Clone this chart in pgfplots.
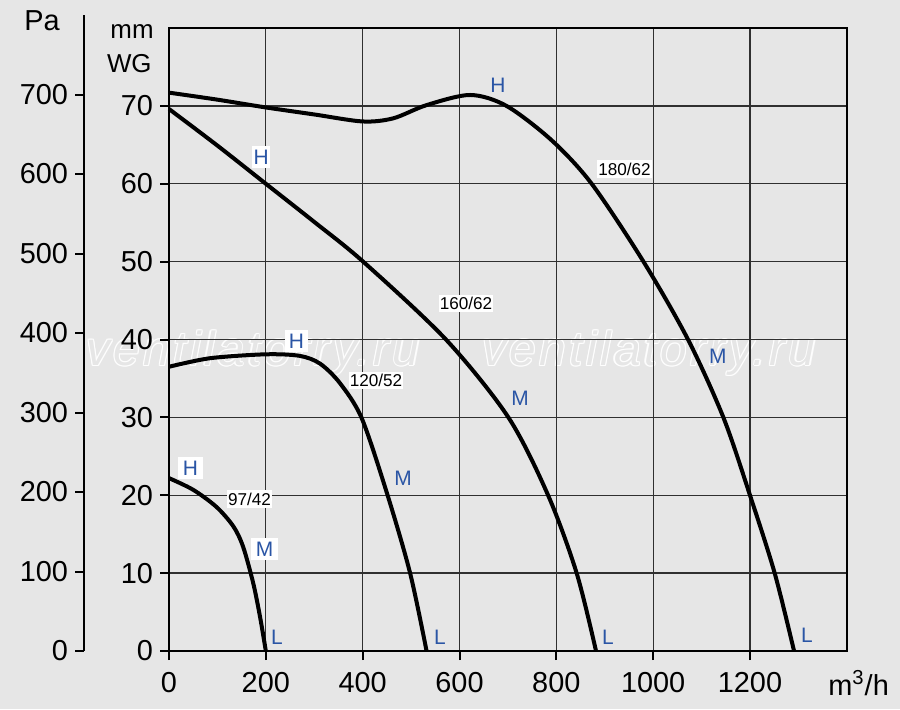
\documentclass[border=0pt]{standalone}
\usepackage{fontspec}
\setmainfont{Liberation Sans}
\newfontfamily\wmfont[LetterSpace=7]{Liberation Sans Italic}
\usepackage{pgfplots}
\pgfplotsset{compat=1.18}
\definecolor{bg}{HTML}{E6E6E6}
\definecolor{gridc}{HTML}{303030}
\definecolor{lblue}{HTML}{2A55A5}
\newcommand{\wm}[2]{%
  \foreach \dx/\dy in {-0.6/0,0.6/0,0/-0.6,0/0.6,-0.42/-0.42,0.42/0.42,-0.42/0.42,0.42/-0.42}{%
    \node[text=white, opacity=0.85, font=\wmfont\fontsize{24}{26}\selectfont] at (#1+\dx,#2+\dy) {ventilatorry.ru};}
  \node[text=bg, font=\wmfont\fontsize{24}{26}\selectfont] at (#1,#2) {ventilatorry.ru};}
\begin{document}
\begin{tikzpicture}[x=1bp,y=1bp,
  cl/.style={fill=white, inner xsep=0.6bp, inner ysep=1.2bp, font=\fontsize{8.6}{9}\selectfont},
  bl/.style={text=lblue, font=\fontsize{10.5}{11}\selectfont, inner sep=0.6bp},
  bw/.style={bl, fill=white, minimum height=11bp}]
\fill[bg] (0,0) rectangle (450,354.5);
\wm{126.5}{178}
\wm{324.5}{178}
% Pa axis
\begin{axis}[at={(42bp,29bp)}, anchor=south west, scale only axis,
  width=10bp, height=318bp, xmin=0, xmax=1, ymin=0, ymax=800,
  axis x line=none, axis y line=left, xtick=\empty,
  y axis line style={-, line width=1bp, black},
  ytick={0,100,...,700}, tick align=outside, major tick length=4.5bp,
  tick style={line width=1bp, black},
  /pgf/number format/assume math mode=true,
  ticklabel style={font=\fontsize{14.5}{17}\selectfont}]
\end{axis}
% main axis (mm WG)
\begin{axis}[at={(84.5bp,29bp)}, anchor=south west, scale only axis,
  width=338.9bp, height=311.5bp,
  xmin=0, xmax=1400, ymin=0, ymax=80,
  xtick={0,200,...,1200}, ytick={0,10,...,70},
  grid=major, major grid style={gridc, line width=0.65bp},
  axis line style={line width=1.15bp, black},
  tick align=outside, tick pos=left, major tick length=4.5bp,
  tick style={line width=1bp, black},
  /pgf/number format/assume math mode=true,
  /pgf/number format/1000 sep={},
  ticklabel style={font=\fontsize{14.5}{17}\selectfont},
  xticklabel style={yshift=-2.5bp},
  clip=false]
\addplot[black, line width=2bp, smooth, no markers] coordinates {(0,71.7) (100,70.8) (200,69.8) (300,68.9) (400,68.0) (463,68.4) (532,70.1) (622,71.4) (697,70.0) (790,65.6) (873,60.0) (980,50.0) (1072,40.0) (1145,30.0) (1200,20.0) (1251,10.0) (1291,0)};
\addplot[black, line width=2bp, smooth, no markers] coordinates {(0,69.6) (100,64.9) (200,60.0) (300,55.1) (401,50.0) (572,40.0) (701,30.0) (783,20.0) (842,10.0) (882,0)};
\addplot[black, line width=2bp, smooth, no markers] coordinates {(0,36.5) (85,37.6) (200,38.1) (270,37.9) (312,36.9) (353,34.4) (398,29.9) (450,20.3) (498,10.0) (532,0)};
\addplot[black, line width=2bp, smooth, no markers] coordinates {(0,22.2) (50,20.7) (98,18.5) (133,16.0) (153,13.4) (174,8.7) (188,4.4) (200,0)};
% curve labels
\node[cl] at (axis cs:940.8,61.9) {180/62};
\node[cl] at (axis cs:613.4,44.6) {160/62};
\node[cl] at (axis cs:427.5,34.7) {120/52};
\node[cl] at (axis cs:166.3,19.5) {97/42};
\node[bl] at (axis cs:679.5,72.7) {H};
\node[bl] at (axis cs:1133.8,37.8) {M};
\node[bl] at (axis cs:1317.6,2.05) {L};
\node[bw, anchor=west] at (axis cs:171.4,63.4) {H\hspace{5bp}};
\node[bl] at (axis cs:724.9,32.5) {M};
\node[bl] at (axis cs:906.6,1.8) {L};
\node[bw, minimum width=11.5bp] at (axis cs:263.3,39.8) {H};
\node[bl] at (axis cs:483.3,22.2) {M};
\node[bl] at (axis cs:559.7,1.8) {L};
\node[bw, minimum width=12.5bp] at (axis cs:44.4,23.5) {H};
\node[bw, minimum width=13.5bp] at (axis cs:197.2,13.1) {M};
\node[bl] at (axis cs:223,1.8) {L};
\end{axis}
\node[anchor=base, font=\fontsize{14.5}{17}\selectfont] at (21,339.2) {Pa};
\node[anchor=base east, font=\fontsize{13}{15}\selectfont, inner sep=0pt] at (77,335.35) {mm};
\node[anchor=base east, font=\fontsize{13}{15}\selectfont, inner sep=0pt] at (76,318.5) {WG};
\node[anchor=base west, font=\fontsize{14.5}{17}\selectfont, inner sep=0pt] at (414,7) {m\textsuperscript{3}/h};
\pgfresetboundingbox
\useasboundingbox (0,0) rectangle (450,354.5);
\end{tikzpicture}
\end{document}
